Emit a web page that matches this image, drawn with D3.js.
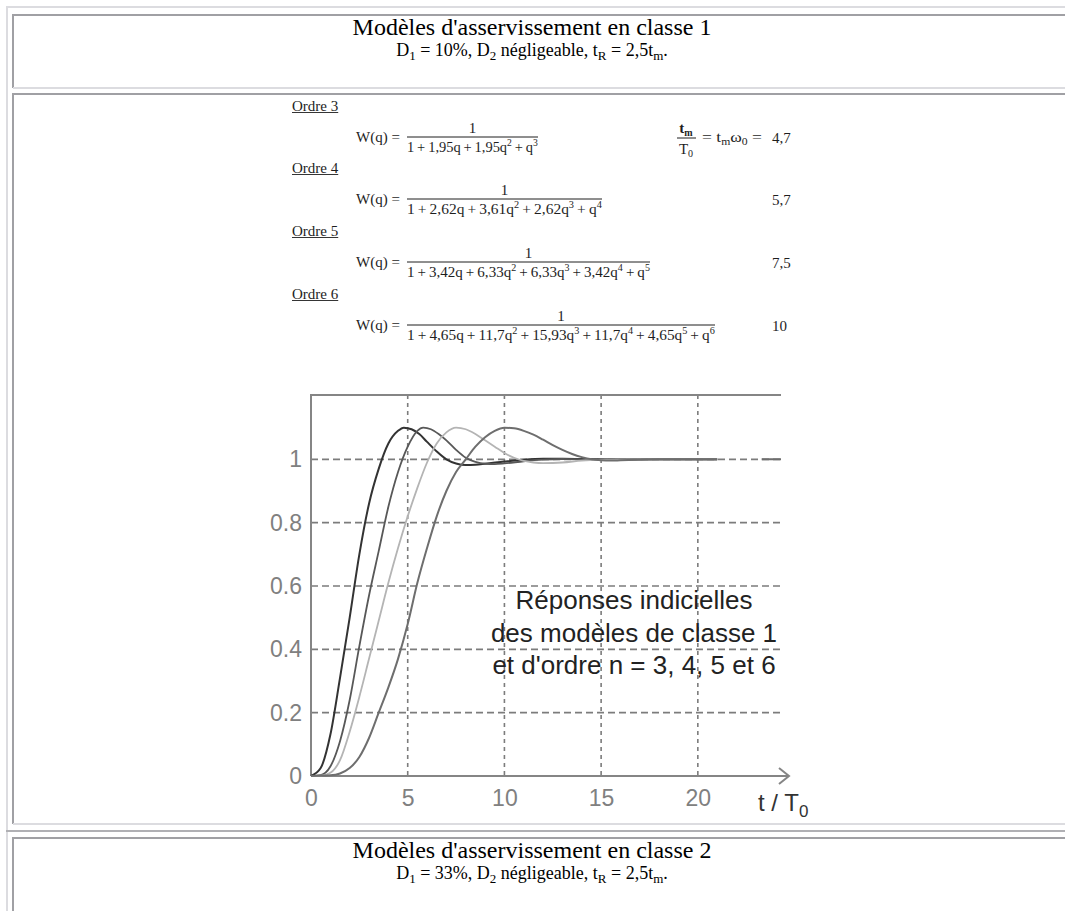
<!DOCTYPE html>
<html>
<head>
<meta charset="utf-8">
<script src="https://cdn.jsdelivr.net/npm/d3@7"></script>
<style>
  html, body { margin: 0; padding: 0; background: #fff; }
  svg { display: block; }
</style>
</head>
<body>
<svg id="page" width="1065" height="911"></svg>
<script>
// ---- Titles ----
const titres = ["Modèles d'asservissement en classe 1", "Modèles d'asservissement en classe 2"];
const depassements = ["10%", "33%"];

// ---- Transfer functions (Ordre 3..6) ----
const ordres = ["Ordre 3", "Ordre 4", "Ordre 5", "Ordre 6"];
const denominateurs = [
  "1+1,95q+1,95q^2+q^3",
  "1+2,62q+3,61q^2+2,62q^3+q^4",
  "1+3,42q+6,33q^2+6,33q^3+3,42q^4+q^5",
  "1+4,65q+11,7q^2+15,93q^3+11,7q^4+4,65q^5+q^6"
];
const tmSurT0 = ["4,7", "5,7", "7,5", "10"];

// ---- Step responses, t / T0 against output ----
const t3 = [0, 0.5, 1, 1.5, 2, 2.5, 3, 3.5, 4, 4.5, 4.8, 5.2, 5.6, 6, 6.5, 7, 7.5, 8, 8.5, 9, 10, 11, 12, 13, 14, 15, 17, 19, 21];
const v3 = [0, 0.025, 0.13, 0.31, 0.5, 0.7, 0.86, 0.97, 1.05, 1.09, 1.1, 1.095, 1.08, 1.055, 1.025, 1.0, 0.987, 0.982, 0.983, 0.986, 0.993, 0.999, 1.002, 1.002, 1.001, 1, 1, 1, 1];

const t4 = [0, 0.5, 1, 1.5, 2, 2.5, 3, 3.5, 4, 4.5, 5, 5.5, 5.8, 6.2, 6.6, 7, 7.5, 8, 8.5, 9, 9.5, 10, 11, 12, 13, 14, 15, 17, 19, 21];
const v4 = [0, 0.003, 0.03, 0.11, 0.24, 0.41, 0.57, 0.71, 0.85, 0.96, 1.04, 1.09, 1.1, 1.095, 1.08, 1.06, 1.03, 1.005, 0.992, 0.986, 0.985, 0.987, 0.994, 0.999, 1.001, 1, 1, 1, 1, 1];

const t5 = [0, 0.5, 1, 1.5, 2, 2.5, 3, 3.5, 4, 4.5, 5, 5.5, 6, 6.5, 7, 7.5, 8, 8.5, 9, 9.5, 10, 10.5, 11, 11.5, 12, 13, 14, 15, 16, 18, 21];
const v5 = [0, 0.001, 0.01, 0.05, 0.14, 0.25, 0.37, 0.49, 0.61, 0.72, 0.82, 0.91, 0.99, 1.05, 1.085, 1.1, 1.095, 1.08, 1.06, 1.04, 1.02, 1.005, 0.995, 0.99, 0.988, 0.99, 0.996, 0.999, 1, 1, 1];

const t6 = [0, 1, 1.5, 2, 2.5, 3, 3.5, 4, 4.5, 5, 5.5, 6, 6.5, 7, 7.5, 8, 8.5, 9, 9.5, 10, 10.5, 11, 11.5, 12, 12.5, 13, 13.5, 14, 14.5, 15, 15.5, 16, 17, 18, 21, 22, 23.3, 24.3];
const v6 = [0, 0.002, 0.008, 0.025, 0.06, 0.12, 0.2, 0.28, 0.37, 0.48, 0.61, 0.72, 0.82, 0.9, 0.96, 1.0, 1.04, 1.07, 1.09, 1.1, 1.098, 1.09, 1.078, 1.062, 1.045, 1.03, 1.017, 1.007, 1.0, 0.997, 0.996, 0.997, 0.999, 1, 1, null, 1, 1];

const courbes = [
  { t: t3, v: v3, couleur: "#333333", epaisseur: 2.0 },
  { t: t4, v: v4, couleur: "#585858", epaisseur: 1.8 },
  { t: t5, v: v5, couleur: "#b4b4b4", epaisseur: 1.8 },
  { t: t6, v: v6, couleur: "#6e6e6e", epaisseur: 2.0 }
];

// ---- Axes ----
const xTicks = [0, 5, 10, 15, 20];
const yTicks = [0, 0.2, 0.4, 0.6, 0.8, 1];
const legende = ["Réponses indicielles", "des modèles de classe 1", "et d'ordre n = 3, 4, 5 et 6"];

const svg = d3.select("#page");
svg.append("rect").attr("width", 1065).attr("height", 911).attr("fill", "#fff");

// ---------- table borders ----------
const LIGHT = "#dcdce0", DARK = "#a0a0a4", MID = "#b0b0b4";
const borders = svg.append("g").attr("stroke-width", 2).attr("fill", "none");
function hline(y, x0, x1, c) { borders.append("line").attr("x1", x0).attr("x2", x1).attr("y1", y).attr("y2", y).attr("stroke", c); }
function vline(x, y0, y1, c) { borders.append("line").attr("x1", x).attr("x2", x).attr("y1", y0).attr("y2", y1).attr("stroke", c); }
hline(7, 6, 1065, LIGHT);
vline(7, 6, 911, LIGHT);
hline(15, 12, 1065, DARK); vline(13, 14, 88, DARK); hline(88, 13, 1065, LIGHT);
hline(94, 12, 1065, DARK); vline(13, 93, 824, DARK); hline(824, 13, 1065, LIGHT);
hline(831, 6, 1065, MID);
hline(838, 12, 1065, DARK); vline(13, 837, 911, DARK);

// ---------- rich text helper (sub/superscripts) ----------
function addRich(text, parts, base, small, up, down) {
  let shift = 0;
  parts.forEach(([s, m]) => {
    const target = m === "sup" ? -up : m === "sub" ? down : 0;
    text.append("tspan").attr("dy", target - shift).attr("font-size", m ? small : base).text(s);
    shift = target;
  });
}

// stretch a text (drawn at the origin) horizontally to a given width
function fit(textSel, x0, x1, y) {
  const w = textSel.node().getBBox().width;
  textSel.attr("transform", `translate(${x0},${y}) scale(${(x1 - x0) / w},1)`);
}

// ---------- titles ----------
const SERIF = "'Liberation Serif', 'Times New Roman', serif";
function titre(i, yTop) {
  svg.append("text").attr("x", 532).attr("y", yTop + 20).attr("text-anchor", "middle")
    .attr("font-family", SERIF).attr("font-size", 24).attr("fill", "#000")
    .text(titres[i]);
  const st = svg.append("text").attr("x", 532).attr("y", yTop + 41).attr("text-anchor", "middle")
    .attr("font-family", SERIF).attr("fill", "#000");
  addRich(st, [["D", ""], ["1", "sub"], [" = " + depassements[i] + ", D", ""], ["2", "sub"],
               [" négligeable, t", ""], ["R", "sub"], [" = 2,5t", ""], ["m", "sub"], [".", ""]], 18, 13, 0, 4);
}
titre(0, 15);
titre(1, 838);

// ---------- formulas ----------
const ink = "#1e1e1e";
const fracY = [137, 199, 262, 325];
const fracEnd = [538, 602, 650, 715];
const formules = svg.append("g").attr("font-family", SERIF).attr("fill", ink);

ordres.forEach((o, i) => {
  const fy = fracY[i];
  const lab = formules.append("text").attr("x", 292).attr("y", fy - 26).attr("font-size", 15).text(o);
  const w = lab.node().getComputedTextLength();
  formules.append("line").attr("x1", 292).attr("x2", 292 + w).attr("y1", fy - 24.5).attr("y2", fy - 24.5)
    .attr("stroke", ink).attr("stroke-width", 0.9);

  formules.append("text").attr("x", 356).attr("y", fy + 5).attr("font-size", 15).text("W(q) =");
  formules.append("line").attr("x1", 407).attr("x2", fracEnd[i]).attr("y1", fy).attr("y2", fy)
    .attr("stroke", ink).attr("stroke-width", 1);
  formules.append("text").attr("x", (407 + fracEnd[i]) / 2).attr("y", fy - 4).attr("text-anchor", "middle")
    .attr("font-size", 15).text("1");

  const parts = denominateurs[i].split(/(\^\d)/).filter(s => s.length)
    .map(s => s[0] === "^" ? [s.slice(1), "sup"] : [s.replace(/\+/g, "\u2009+\u2009"), ""]);
  const den = formules.append("text").attr("x", 0).attr("y", 0);
  addRich(den, parts, 15, 10, 6, 0);
  fit(den, 407, fracEnd[i], fy + 15);

  formules.append("text").attr("x", 772).attr("y", fy + 6).attr("font-size", 15).text(tmSurT0[i]);
});

// tm / T0 = tm w0 =
{
  const fy = fracY[0];
  const num = formules.append("text").attr("x", 686).attr("y", fy - 4).attr("text-anchor", "middle").attr("font-weight", "bold");
  addRich(num, [["t", ""], ["m", "sub"]], 15, 10, 0, 3);
  formules.append("line").attr("x1", 677).attr("x2", 696).attr("y1", fy + 1).attr("y2", fy + 1)
    .attr("stroke", ink).attr("stroke-width", 1);
  const den = formules.append("text").attr("x", 686).attr("y", fy + 17).attr("text-anchor", "middle");
  addRich(den, [["T", ""], ["0", "sub"]], 15, 10, 0, 3);
  const eq = formules.append("text").attr("x", 0).attr("y", 0);
  addRich(eq, [["= t", ""], ["m", "sub"], ["\u03c9", ""], ["0", "sub"], ["  =", ""]], 15, 10, 0, 3);
  fit(eq, 702, 762, fy + 5);
}

// ---------- step response chart ----------
const SANS = "'Liberation Sans', Arial, sans-serif";
const x = d3.scaleLinear().domain([0, 24.3]).range([311, 781]);
const y = d3.scaleLinear().domain([0, 1.2]).range([776, 396]);
const chart = svg.append("g");

// grid
chart.append("g").selectAll("line").data(yTicks.filter(d => d > 0)).join("line")
  .attr("x1", x(0)).attr("x2", x.range()[1]).attr("y1", d => y(d)).attr("y2", d => y(d))
  .attr("stroke", "#7c7c7c").attr("stroke-width", 1.6).attr("stroke-dasharray", "7,4");
chart.append("g").selectAll("line").data(xTicks.filter(d => d > 0)).join("line")
  .attr("x1", d => x(d)).attr("x2", d => x(d)).attr("y1", y(1.2) - 1).attr("y2", y(0))
  .attr("stroke", "#7c7c7c").attr("stroke-width", 1.6).attr("stroke-dasharray", "4,4");

// frame: top border, left axis, bottom axis with arrow
const frame = chart.append("g").attr("stroke", "#858585").attr("stroke-width", 2).attr("fill", "none");
frame.append("line").attr("x1", x(0)).attr("x2", x.range()[1]).attr("y1", y(1.2) - 1).attr("y2", y(1.2) - 1);
frame.append("line").attr("x1", x(0)).attr("x2", x(0)).attr("y1", y(1.2) - 2).attr("y2", y(0));
frame.append("line").attr("x1", x(0)).attr("x2", x.range()[1] + 8).attr("y1", y(0)).attr("y2", y(0));
frame.append("path").attr("d", `M${x.range()[1] - 2},${y(0) - 8}L${x.range()[1] + 8},${y(0)}L${x.range()[1] - 2},${y(0) + 8}`);

// tick labels through d3 axes
const yAxis = chart.append("g").attr("transform", `translate(${x(0)},0)`)
  .call(d3.axisLeft(y).tickValues(yTicks).tickSize(0).tickPadding(9).tickFormat(d3.format("~g")));
const xAxis = chart.append("g").attr("transform", `translate(0,${y(0)})`)
  .call(d3.axisBottom(x).tickValues(xTicks).tickSize(0).tickPadding(14).tickFormat(d3.format("~g")));
[yAxis, xAxis].forEach(a => {
  a.select(".domain").remove();
  a.selectAll("text").attr("font-family", SANS).attr("font-size", 23).attr("fill", "#808080");
});

// axis title t / T0
{
  const lab = chart.append("text").attr("x", 758).attr("y", 811).attr("font-family", SANS).attr("fill", "#333");
  addRich(lab, [["t / T", ""], ["0", "sub"]], 24, 17, 0, 6);
}

// curves
const line = d3.line().defined(d => d[1] !== null).x(d => x(d[0])).y(d => y(d[1])).curve(d3.curveMonotoneX);
courbes.forEach(c => {
  chart.append("path").datum(c.t.map((t, i) => [t, c.v[i]]))
    .attr("d", line).attr("fill", "none").attr("stroke", c.couleur).attr("stroke-width", c.epaisseur)
    .attr("stroke-linejoin", "round");
});

// annotation
const ann = chart.append("text").attr("font-family", SANS).attr("font-size", 26).attr("fill", "#222")
  .attr("text-anchor", "middle");
legende.forEach((l, i) => ann.append("tspan").attr("x", 634).attr("y", 609 + i * 32.5).text(l));
</script>
</body>
</html>
